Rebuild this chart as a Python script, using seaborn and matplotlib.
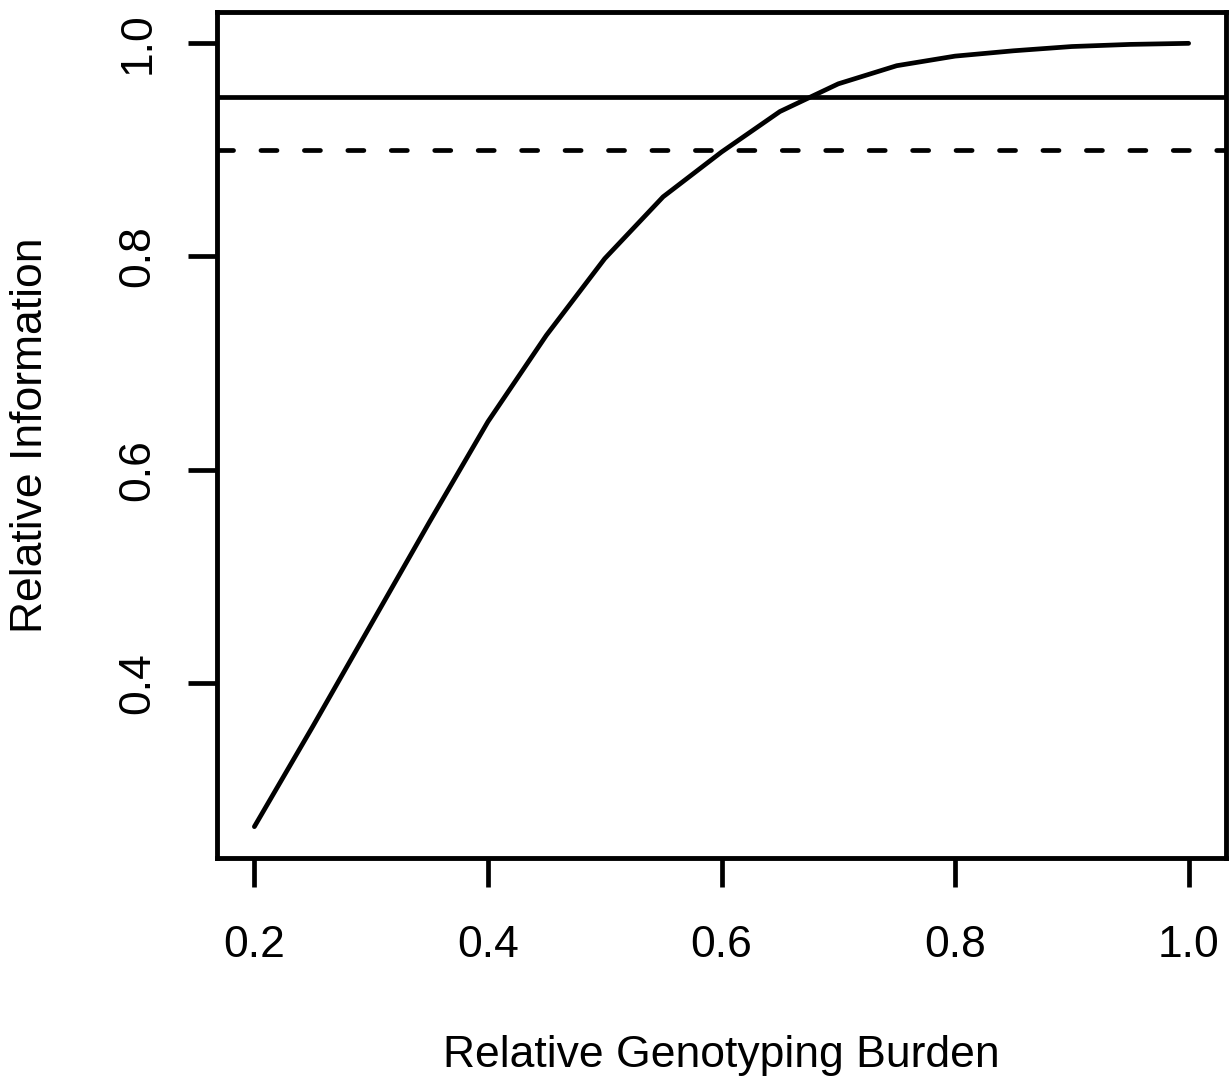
import matplotlib
matplotlib.use("Agg")
import matplotlib.pyplot as plt
import seaborn as sns
import pandas as pd

# values
burden = [0.20, 0.25, 0.30, 0.35, 0.40, 0.45, 0.50, 0.55, 0.60,
          0.65, 0.70, 0.75, 0.80, 0.85, 0.90, 0.95, 1.00]
information = [0.265, 0.359, 0.455, 0.551, 0.645, 0.726, 0.798, 0.856, 0.898,
               0.936, 0.962, 0.979, 0.988, 0.993, 0.997, 0.999, 1.000]
solid_level = 0.95
dashed_level = 0.90
x_ticks = [0.2, 0.4, 0.6, 0.8, 1.0]
y_ticks = [0.4, 0.6, 0.8, 1.0]

df = pd.DataFrame({"burden": burden, "information": information})

sns.set_style("white")
plt.rcParams["font.family"] = ["Liberation Sans", "DejaVu Sans"]

fig = plt.figure(figsize=(12.29, 10.81), dpi=100)
ax = fig.add_axes([217 / 1229, 1 - 858 / 1081, 1009 / 1229, 846 / 1081])

lw = 3.4
sns.lineplot(data=df, x="burden", y="information", ax=ax, color="black",
             linewidth=lw, solid_joinstyle="round", solid_capstyle="round")
ax.axhline(solid_level, color="black", linewidth=lw)
ax.axhline(dashed_level, color="black", linewidth=lw,
           linestyle=(0, (3.4, 5.8)), dash_capstyle="round")

ax.set_xlim(0.168, 1.032)
ax.set_ylim(0.2356, 1.0294)
ax.set_xticks(x_ticks)
ax.set_yticks(y_ticks)
ax.set_xticklabels([f"{v:.1f}" for v in x_ticks])
ax.set_yticklabels([f"{v:.1f}" for v in y_ticks], rotation=90, va="center")

for sp in ax.spines.values():
    sp.set_visible(True)
    sp.set_color("black")
    sp.set_linewidth(3.5)

ax.tick_params(axis="both", direction="out", length=21, width=lw,
               color="black", labelsize=32, labelcolor="black",
               bottom=True, left=True)
ax.tick_params(axis="x", pad=27)
ax.tick_params(axis="y", pad=21)

ax.set_xlabel("Relative Genotyping Burden", fontsize=32, color="black", va="center")
ax.set_ylabel("Relative Information", fontsize=32, color="black", va="center")
ax.xaxis.set_label_coords(0.5, (858 - 1055) / 846)
ax.yaxis.set_label_coords((30 - 217) / 1009, 0.5)

fig.savefig("out.png", dpi=100, facecolor="white")
